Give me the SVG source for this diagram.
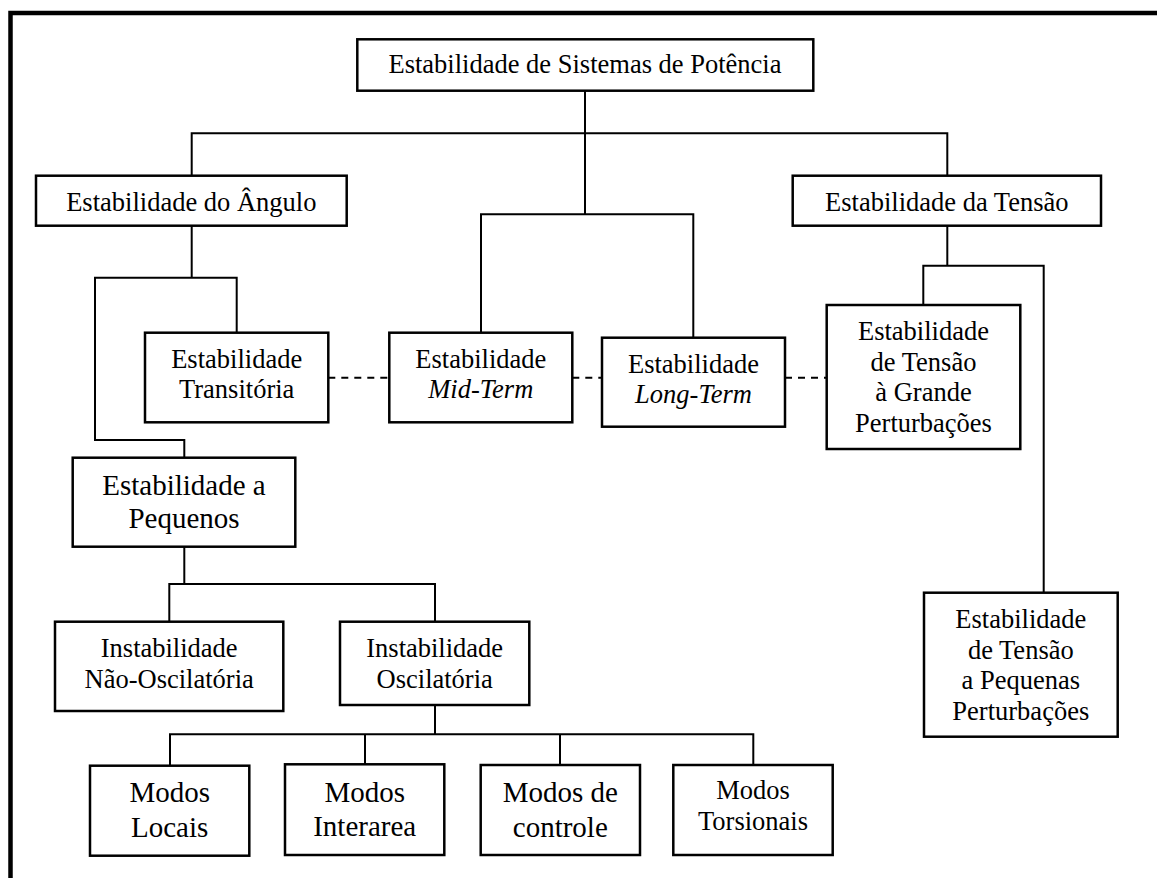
<svg xmlns="http://www.w3.org/2000/svg" width="1157" height="878" viewBox="0 0 1157 878">
  <style>
    .box { fill: #fff; stroke: #000; stroke-width: 2.5; }
    .wire { fill: none; stroke: #000; stroke-width: 2; }
    .dash { fill: none; stroke: #000; stroke-width: 2; stroke-dasharray: 7 6; }
    text { font-family: "Liberation Serif", "Times New Roman", serif; font-size: 26.5px; fill: #000; text-anchor: middle; }
    .big { font-size: 29px; }
    .it { font-style: italic; }
  </style>
  <rect width="1157" height="878" fill="#fff"/>
  <!-- page frame: only top and left edges fall inside the canvas -->
  <path d="M10.5,880 V13 H1160" fill="none" stroke="#000" stroke-width="4.5"/>

  <g id="connectors">
    <path class="wire" d="M585,91 V214.3"/>
    <path class="wire" d="M191.7,175.7 V133.3 H947.3 V175.7"/>
    <path class="wire" d="M481,332.7 V214.3 H693.3 V337.7"/>
    <path class="wire" d="M947.3,225.7 V265.7"/>
    <path class="wire" d="M923.3,305 V265.7 H1043.7 V592.7"/>
    <path class="wire" d="M191.7,225.7 V277.7"/>
    <path class="wire" d="M236.7,332.7 V277.7 H95 V440 H184.3 V457.7"/>
    <path class="wire" d="M184.3,546.7 V584"/>
    <path class="wire" d="M169.3,621.7 V584 H435 V621.7"/>
    <path class="wire" d="M435,705 V734.3"/>
    <path class="wire" d="M170,765.7 V734.3 H753.3 V765"/>
    <path class="wire" d="M365,734.3 V764.3"/>
    <path class="wire" d="M560,734.3 V765"/>
    <path class="dash" d="M328.3,377.7 H389.3"/>
    <path class="dash" d="M572.3,377.7 H602"/>
    <path class="dash" d="M785,377.7 H826.7"/>
  </g>

  <g id="sistemas">
    <rect class="box" x="357.3" y="39.3" width="456" height="51.4"/>
    <text x="585" y="73.3">Estabilidade de Sistemas de Potência</text>
  </g>

  <g id="angulo">
    <rect class="box" x="36" y="175.7" width="310.7" height="50"/>
    <text x="191.3" y="210.7">Estabilidade do Ângulo</text>
  </g>

  <g id="tensao">
    <rect class="box" x="792.7" y="175.7" width="308.3" height="50"/>
    <text x="946.8" y="210.7">Estabilidade da Tensão</text>
  </g>

  <g id="transitoria">
    <rect class="box" x="145" y="332.7" width="183.3" height="89.6"/>
    <text x="236.7" y="368.3">Estabilidade</text>
    <text x="236.7" y="398.3">Transitória</text>
  </g>

  <g id="mid-term">
    <rect class="box" x="389.3" y="332.7" width="183" height="89.6"/>
    <text x="480.8" y="368.3">Estabilidade</text>
    <text x="480.8" y="398.3" class="it">Mid-Term</text>
  </g>

  <g id="long-term">
    <rect class="box" x="602" y="337.7" width="183" height="89" stroke-width="3"/>
    <text x="693.5" y="373.3">Estabilidade</text>
    <text x="693.5" y="403.3" class="it">Long-Term</text>
  </g>

  <g id="grandes-perturbacoes">
    <rect class="box" x="826.7" y="305" width="193.6" height="144"/>
    <text x="923.5" y="340">Estabilidade</text>
    <text x="923.5" y="370.7">de Tensão</text>
    <text x="923.5" y="400.7">à Grande</text>
    <text x="923.5" y="431.7">Perturbações</text>
  </g>

  <g id="pequenos">
    <rect class="box" x="72.7" y="457.7" width="222.6" height="89"/>
    <text x="184" y="495" class="big">Estabilidade a</text>
    <text x="184" y="528.3" class="big">Pequenos</text>
  </g>

  <g id="nao-oscilatoria">
    <rect class="box" x="55" y="621.7" width="228.3" height="89.3"/>
    <text x="169.2" y="657.3">Instabilidade</text>
    <text x="169.2" y="688.3">Não-Oscilatória</text>
  </g>

  <g id="oscilatoria">
    <rect class="box" x="340" y="621.7" width="189.3" height="83.3"/>
    <text x="434.7" y="656.7">Instabilidade</text>
    <text x="434.7" y="688.3">Oscilatória</text>
  </g>

  <g id="pequenas-perturbacoes">
    <rect class="box" x="924" y="592.7" width="193.7" height="144"/>
    <text x="1020.8" y="628.3">Estabilidade</text>
    <text x="1020.8" y="659">de Tensão</text>
    <text x="1020.8" y="689">a Pequenas</text>
    <text x="1020.8" y="720">Perturbações</text>
  </g>

  <g id="locais">
    <rect class="box" x="90" y="765.7" width="159.3" height="90"/>
    <text x="169.7" y="802.3" class="big">Modos</text>
    <text x="169.7" y="836.7" class="big">Locais</text>
  </g>

  <g id="interarea">
    <rect class="box" x="285" y="764.3" width="159.3" height="90.7"/>
    <text x="364.7" y="802" class="big">Modos</text>
    <text x="364.7" y="836.3" class="big">Interarea</text>
  </g>

  <g id="controle">
    <rect class="box" x="480.7" y="765" width="159.3" height="90"/>
    <text x="560.3" y="801.7" class="big">Modos de</text>
    <text x="560.3" y="836.7" class="big">controle</text>
  </g>

  <g id="torsionais">
    <rect class="box" x="673.3" y="765" width="159.4" height="90"/>
    <text x="753" y="799.3">Modos</text>
    <text x="753" y="830">Torsionais</text>
  </g>
</svg>
